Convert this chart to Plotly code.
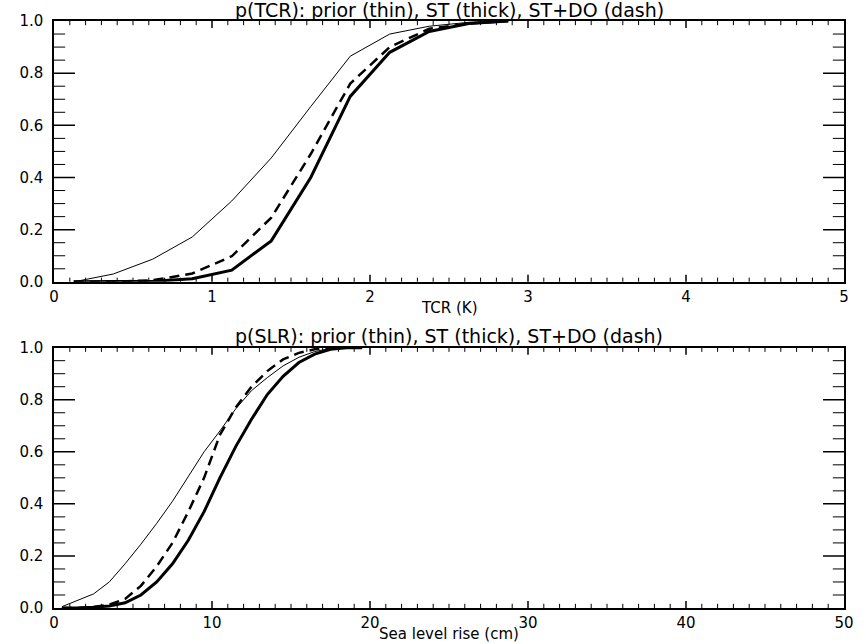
import plotly.graph_objects as go

# ---- data ----
tcr_x = [0.125, 0.375, 0.625, 0.875, 1.125, 1.375, 1.625, 1.875, 2.125, 2.375, 2.625, 2.875]
tcr_prior = [0.0, 0.03, 0.087, 0.172, 0.31, 0.475, 0.672, 0.865, 0.95, 0.98, 0.995, 1.0]
tcr_st = [0.0, 0.0, 0.002, 0.012, 0.045, 0.157, 0.40, 0.711, 0.88, 0.96, 0.99, 1.0]
tcr_stdo = [0.0, 0.0, 0.006, 0.032, 0.098, 0.246, 0.49, 0.76, 0.90, 0.97, 0.99, 1.0]

slr_x = [0.5, 1.5, 2.5, 3.5, 4.5, 5.5, 6.5, 7.5, 8.5, 9.5, 10.5, 11.5, 12.5, 13.5,
         14.5, 15.5, 16.5, 17.5, 18.5, 19.5]
slr_prior = [0.005, 0.028, 0.054, 0.10, 0.17, 0.245, 0.325, 0.41, 0.505, 0.60, 0.68,
             0.765, 0.835, 0.885, 0.93, 0.963, 0.985, 0.997, 1.0, 1.0]
slr_st = [0.0, 0.0, 0.003, 0.008, 0.02, 0.05, 0.10, 0.17, 0.26, 0.37, 0.50, 0.62,
          0.725, 0.82, 0.89, 0.943, 0.975, 0.994, 1.0, 1.0]
slr_stdo = [0.0, 0.0, 0.004, 0.013, 0.035, 0.085, 0.16, 0.25, 0.37, 0.50, 0.665, 0.77,
            0.85, 0.91, 0.955, 0.98, 0.994, 1.0, 1.0, 1.0]

tcr_range = [0, 5]
slr_range = [0, 50]
p_range = [0, 1]
tcr_ticks = [0, 1, 2, 3, 4, 5]
slr_ticks = [0, 10, 20, 30, 40, 50]
p_ticks = [0.0, 0.2, 0.4, 0.6, 0.8, 1.0]
p_ticklabels = ["0.0", "0.2", "0.4", "0.6", "0.8", "1.0"]

titles = ["p(TCR): prior (thin), ST (thick), ST+DO (dash)",
          "p(SLR): prior (thin), ST (thick), ST+DO (dash)"]
xtitles = ["TCR (K)", "Sea level rise (cm)"]

FONT = "DejaVu Sans"

fig = go.Figure()

def add_set(x, prior, st, stdo, xa, ya):
    fig.add_trace(go.Scatter(x=x, y=prior, mode="lines", xaxis=xa, yaxis=ya,
                             line=dict(color="black", width=1), showlegend=False))
    fig.add_trace(go.Scatter(x=x, y=st, mode="lines", xaxis=xa, yaxis=ya,
                             line=dict(color="black", width=3), showlegend=False))
    fig.add_trace(go.Scatter(x=x, y=stdo, mode="lines", xaxis=xa, yaxis=ya,
                             line=dict(color="black", width=2.5, dash="10px,6px"),
                             showlegend=False))

add_set(tcr_x, tcr_prior, tcr_st, tcr_stdo, "x", "y")
add_set(slr_x, slr_prior, slr_st, slr_stdo, "x2", "y2")

# inward tick marks on all four sides, drawn as clipped line markers
def tick_positions(rng, major_step, n_minor):
    step = major_step / n_minor
    n = int(round((rng[1] - rng[0]) / step))
    major, minor = [], []
    for k in range(1, n):
        v = round(rng[0] + k * step, 6)
        (major if k % n_minor == 0 else minor).append(v)
    return major, minor

def tick_trace(xs, ys, symbol, length, width, xa, ya):
    fig.add_trace(go.Scatter(
        x=xs, y=ys, mode="markers", xaxis=xa, yaxis=ya, cliponaxis=True,
        hoverinfo="skip", showlegend=False,
        marker=dict(symbol=symbol, size=2 * length, color="black",
                    line=dict(color="black", width=width))))

def add_ticks(xa, ya, xrng, xstep, xminor, yrng, ystep, yminor):
    xmaj, xmin = tick_positions(xrng, xstep, xminor)
    ymaj, ymin = tick_positions(yrng, ystep, yminor)
    for yedge in yrng:
        tick_trace(xmaj, [yedge] * len(xmaj), "line-ns", 5, 1.5, xa, ya)
        tick_trace(xmin, [yedge] * len(xmin), "line-ns", 3, 1, xa, ya)
    for xedge in xrng:
        tick_trace([xedge] * len(ymaj), ymaj, "line-ew", 15, 1.5, xa, ya)
        tick_trace([xedge] * len(ymin), ymin, "line-ew", 8, 1, xa, ya)

add_ticks("x", "y", tcr_range, 1, 10, p_range, 0.2, 4)
add_ticks("x2", "y2", slr_range, 10, 10, p_range, 0.2, 4)

tf = dict(family=FONT, size=15, color="black")

def xaxis(rng, tickvals, anchor):
    return dict(range=rng, tickvals=tickvals, anchor=anchor,
                showline=True, linecolor="black", linewidth=1.5, mirror=True,
                ticks="", showgrid=False, zeroline=False, tickfont=tf)

def yaxis(domain, anchor):
    return dict(range=p_range, domain=domain, tickvals=p_ticks, ticktext=p_ticklabels,
                anchor=anchor, showline=True, linecolor="black", linewidth=1.5,
                mirror=True, ticks="", showgrid=False, zeroline=False, tickfont=tf,
                ticklabelstandoff=6)

H = 644
mt, mb = 19.5, 36
ph = H - mt - mb
top_bot = 1 - (281 - mt) / ph
bot_top = 1 - (347 - mt) / ph

fig.update_layout(
    width=866, height=644,
    margin=dict(l=54, r=16, t=mt, b=mb),
    paper_bgcolor="white", plot_bgcolor="white",
    xaxis=xaxis(tcr_range, tcr_ticks, "y"),
    yaxis=yaxis([top_bot, 1], "x"),
    xaxis2=xaxis(slr_range, slr_ticks, "y2"),
    yaxis2=yaxis([0, bot_top], "x2"),
)

def ypix(p):
    return 1 - (p - mt) / ph

ann = [
    (titles[0], 8.5, 19),
    (titles[1], 335, 19),
    (xtitles[0], 307, 15),
    (xtitles[1], 634, 15),
]
for text, py, size in ann:
    fig.add_annotation(text=text, xref="paper", yref="paper", x=0.5, y=ypix(py),
                       xanchor="center", yanchor="middle", showarrow=False,
                       font=dict(family=FONT, size=size, color="black"))

fig.write_html("out.html")
